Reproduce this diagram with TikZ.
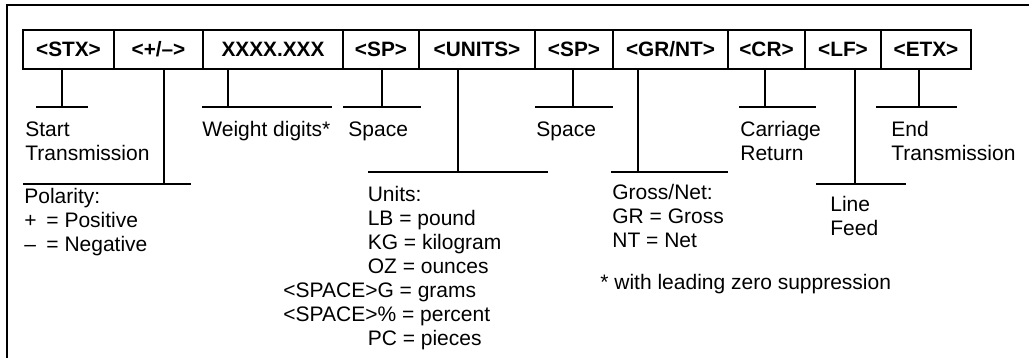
\documentclass[tikz,border=0pt]{standalone}
\usepackage{fontspec}
\setmainfont{Liberation Sans}
\usetikzlibrary{positioning}

\tikzset{
  field/.style={draw, line width=0.8pt, minimum height=19.5pt, inner sep=0pt,
    outer sep=0pt, font=\fontsize{10.4}{12}\selectfont\bfseries},
  lbl/.style={anchor=north west, inner sep=0pt, align=left,
    font=\fontsize{10.5}{12}\selectfont},
  tick/.style={line width=0.75pt},
}
\newcommand{\indnt}{\hspace*{42.2pt}}

\begin{document}
\begin{tikzpicture}[x=0.5pt, y=-0.5pt]
  \useasboundingbox (0,0) rectangle (1029,358);
  \draw[line width=1pt] (7,358) -- (7,5) -- (1029,5); % frame

  % the fields of the output string
  \node[field, minimum width=45.5pt, anchor=north west] (stx) at (23,30) {<STX>};
  \node[field, minimum width=44.5pt, right=0pt of stx] (pol) {<+/\textendash>};
  \node[field, minimum width=70pt, right=0pt of pol] (wt) {XXXX.XXX};
  \node[field, minimum width=38pt, right=0pt of wt] (spa) {<SP>};
  \node[field, minimum width=58pt, right=0pt of spa] (unit) {<UNITS>};
  \node[field, minimum width=39pt, right=0pt of unit] (spb) {<SP>};
  \node[field, minimum width=57.5pt, right=0pt of spb] (grnt) {<GR/NT>};
  \node[field, minimum width=38.5pt, right=0pt of grnt] (cr) {<CR>};
  \node[field, minimum width=38pt, right=0pt of cr] (lf) {<LF>};
  \node[field, minimum width=45pt, right=0pt of lf] (etx) {<ETX>};

  % stems and bars: field / stem x / bar y / bar from / bar to
  \foreach \f/\x/\y/\l/\r in {stx/62/107/36/88, pol/164/184/23/191,
      wt/228/107/202/332, spa/382/107/343/421, unit/458/172/368/548,
      spb/573/107/535/613, grnt/638/172/611/728, cr/765/107/739/816,
      lf/855/184/816/906, etx/919/107/876/957}{
    \coordinate (foot) at (\x,\y);
    \coordinate (barL) at (\l,\y);
    \coordinate (barR) at (\r,\y);
    \draw[tick] (foot |- \f.south) -- (foot);
    \draw[tick] (barL) -- (barR);
  }

  \node[lbl] (tstx) at (25,121) {Start\\Transmission};
  \node[lbl] (twt) at (202,121) {Weight digits*};
  \node[lbl] (tspa) at (348,121) {Space};
  \node[lbl] (tspb) at (536,121) {Space};
  \node[lbl] (tcr) at (740,121) {Carriage\\Return};
  \node[lbl] (tetx) at (891,121) {End\\Transmission};

  \node[lbl] (tpol) at (24,188)
    {Polarity:\\\makebox[1.05em][l]{+}= Positive\\\makebox[1.05em][l]{\textendash}= Negative};
  \node[lbl] (tunit) at (283,186)
    {\indnt Units:\\\indnt LB = pound\\\indnt KG = kilogram\\\indnt OZ = ounces\\
     <SPACE>G = grams\\<SPACE>\% = percent\\\indnt PC = pieces};
  \node[lbl] (tgrnt) at (612,184) {Gross/Net:\\GR = Gross\\NT = Net};
  \node[lbl] (tlf) at (830,196) {Line\\Feed};
  \node[lbl] (note) at (600,274) {* with leading zero suppression};
\end{tikzpicture}
\end{document}
